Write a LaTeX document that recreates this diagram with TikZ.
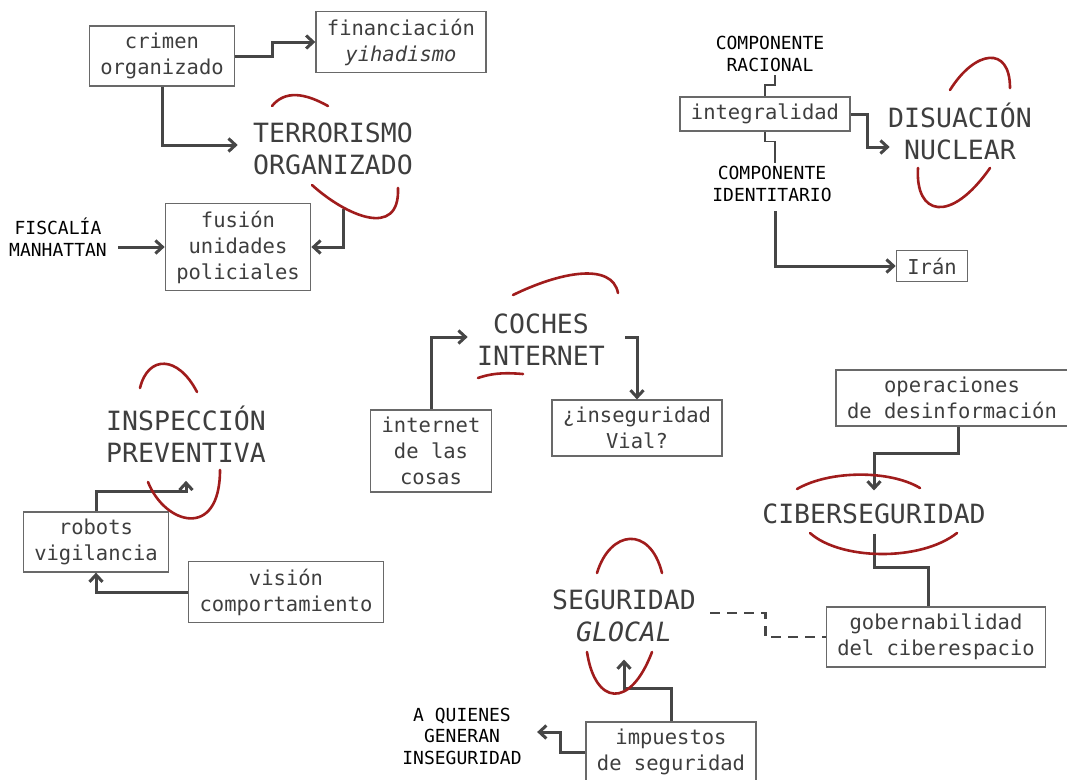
\documentclass[tikz,border=0pt]{standalone}
\usepackage{fontspec}
\setmonofont{DejaVu Sans Mono}
\usetikzlibrary{arrows.meta}
\definecolor{inkgray}{RGB}{62,62,62}
\definecolor{boxgray}{RGB}{105,105,105}
\definecolor{arrowgray}{RGB}{70,70,70}
\definecolor{loopred}{RGB}{160,28,28}

\begin{document}
\begin{tikzpicture}[x=1pt, y=-1pt,
	box/.style={draw=boxgray, line width=1.3pt, inner xsep=11pt, inner ysep=7pt, align=center, text=inkgray, font=\ttfamily\fontsize{20.5}{26}\selectfont},
	big/.style={align=center, text=inkgray, font=\ttfamily\fontsize{26.5}{32}\selectfont},
	caps/.style={align=center, text=black, font=\ttfamily\fontsize{18}{21.5}\selectfont},
	arr/.style={draw=arrowgray, line width=3pt, -{Straight Barb[length=7pt,width=13pt]}},
	link/.style={draw=arrowgray, line width=1.6pt},
	redloop/.style={draw=loopred, line width=2.6pt, line cap=round}]
	\useasboundingbox (0,0) rectangle (1067,779);

	\node[box] (crimen) at (162,56) {crimen\\organizado};
	\node[box] (financ) at (401,42) {financiación\\\textit{yihadismo}};
	\node[big] (terror) at (333,149) {TERRORISMO\\ORGANIZADO};
	\node[box] (fusion) at (238,247) {fusión\\unidades\\policiales};
	\node[caps] (fiscal) at (58,237) {FISCALÍA\\MANHATTAN};

	\node[caps] (racional) at (770,54) {COMPONENTE\\RACIONAL};
	\node[box] (integral) at (765,114) {integralidad};
	\node[big] (disuas) at (960,131) {DISUACIÓN\\NUCLEAR};
	\node[caps] (identit) at (772,184) {COMPONENTE\\IDENTITARIO};
	\node[box] (iran) at (932,266) {Irán};

	\node[big] (coches) at (541,340) {COCHES\\INTERNET};
	\node[box] (cosas) at (431,451) {internet\\de las\\cosas};
	\node[box] (vial) at (637,428) {¿inseguridad\\Vial?};

	\node[big] (inspec) at (186,434) {INSPECCIÓN\\PREVENTIVA};
	\node[box] (robots) at (96,542) {robots\\vigilancia};
	\node[box] (vision) at (286,592) {visión\\comportamiento};

	\node[box] (operac) at (952,398) {operaciones\\de desinformación};
	\node[big] (ciber) at (874,514) {CIBERSEGURIDAD};
	\node[box] (gobern) at (936,637) {gobernabilidad\\del ciberespacio};
	\node[big] (segur) at (624,616) {SEGURIDAD\\\textit{GLOCAL}};
	\node[box] (impuest) at (671,752) {impuestos\\de seguridad};
	\node[caps] (quienes) at (462,736) {A QUIENES\\GENERAN\\INSEGURIDAD};

	\draw[arr] (crimen.east) -- ++(37,0) |- (financ.west);
	\draw[arr] (crimen.south) |- ([xshift=-12pt,yshift=4pt]terror.west);
	\draw[arr] ([xshift=10pt,yshift=-30pt]terror.south) |- (fusion.east);
	\draw[arr] ([xshift=8pt]fiscal.east |- fusion.west) -- (fusion.west);

	\draw[link] ([xshift=5pt]racional.south) -- ++(0,10) -| (integral.north);
	\draw[link] (integral.south) -- ++(0,10) -| ([xshift=3pt]identit.north);
	\draw[arr] (integral.east) -- ++(17,0) |- ([xshift=5pt,yshift=-16pt]disuas.west);
	\draw[arr] ([xshift=3pt,yshift=-6pt]identit.south) |- (iran.west);

	\draw[arr] (cosas.north) |- ([xshift=-6pt,yshift=3pt]coches.west);
	\draw[arr] ([xshift=17pt,yshift=3pt]coches.east) -| (vial.north);

	\draw[arr] (robots.north) -- ++(0,-20) -| ([yshift=-15pt]inspec.south);
	\draw[arr] (vision.west) -| (robots.south);

	\draw[arr] ([xshift=6pt]operac.south) -- ++(0,27) -| ([yshift=10pt]ciber.north);
	\draw[link, line width=3pt] ([yshift=-6pt]ciber.south) -- ++(0,34) -| ([xshift=-8pt]gobern.north);
	\draw[arrowgray, line width=2.6pt, dash pattern=on 10pt off 7pt] ([xshift=11pt,yshift=3pt]segur.east) -- ++(55,0) |- (gobern.west);
	\draw[arr] (impuest.north) -- ++(0,-33) -| ([yshift=-14pt]segur.south);
	\draw[arr] (impuest.west) -- ++(-25,0) |- ([xshift=12pt,yshift=4pt]quienes.east);

	\draw[redloop] (272,106) .. controls (285,90) and (305,93) .. (328,106);
	\draw[redloop] (312,185) .. controls (345,215) and (400,240) .. (398,188);
	\draw[redloop] (950,90) .. controls (975,50) and (1010,45) .. (1010,88);
	\draw[redloop] (918,168) .. controls (915,215) and (950,225) .. (990,168);
	\draw[redloop] (513,295) .. controls (560,272) and (612,262) .. (618,293);
	\draw[redloop] (478,378) .. controls (495,372) and (510,373) .. (523,374);
	\draw[redloop] (140,388) .. controls (148,355) and (178,355) .. (197,392);
	\draw[redloop] (148,482) .. controls (165,525) and (220,540) .. (220,470);
	\draw[redloop] (797,489) .. controls (830,470) and (890,470) .. (920,488);
	\draw[redloop] (810,533) .. controls (840,560) and (920,562) .. (957,533);
	\draw[redloop] (597,573) .. controls (610,530) and (650,525) .. (662,573);
	\draw[redloop] (587,652) .. controls (595,705) and (630,710) .. (652,652);
\end{tikzpicture}
\end{document}
